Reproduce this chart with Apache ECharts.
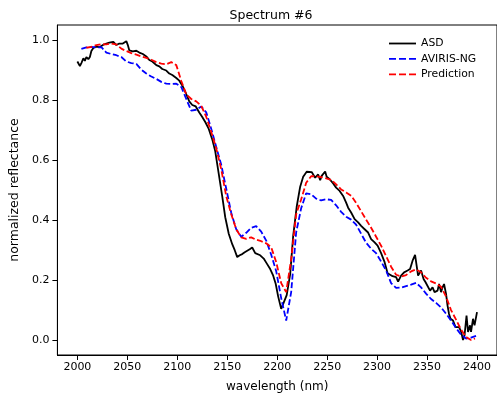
<!DOCTYPE html>
<html>
<head>
<meta charset="utf-8">
<script src="https://cdn.jsdelivr.net/npm/echarts@6/dist/echarts.min.js"></script>
<style>html,body{margin:0;padding:0;background:#fff}#c{width:497px;height:398px}</style>
</head>
<body>
<div id="c"></div>
<script>
// Tick labels
const xTicks = [2000, 2050, 2100, 2150, 2200, 2250, 2300, 2350, 2400];
const yTicks = [0.0, 0.2, 0.4, 0.6, 0.8, 1.0];

// ASD (black solid)
const asdWl = [2000,2002.5,2004,2006,2007.5,2009,2011,2012.5,2014,2016,2019,2022,2026,2029,2032,2036,2037,2039,2040.5,2042,2044,2045.5,2049,2050.5,2052,2055.5,2059,2062,2065.5,2069,2072,2075,2079,2082,2085,2089,2092,2095,2099,2102,2105,2108.5,2112,2115,2118.5,2122,2125,2128,2131.5,2135,2138,2141.5,2145,2148,2151.5,2155,2157.5,2160,2162.5,2165,2167.5,2170,2172.5,2175,2176.5,2178,2180,2183,2186.5,2189.5,2193,2196,2198.5,2201,2204,2206,2209.5,2213,2216,2219.5,2223,2226,2229.5,2231,2234.5,2238,2241,2243,2244.5,2248,2249.5,2252.5,2256,2259,2262.5,2266,2269,2271,2274,2277.5,2281,2284,2287.5,2291,2294,2297.5,2300.5,2304,2307.5,2310.5,2315.5,2319,2321,2324,2327,2330.5,2333,2335.5,2338,2340,2341,2344,2346.5,2348.5,2350.5,2353,2355.5,2357.5,2360.5,2362,2364,2365.5,2367,2369,2370.5,2372,2373.5,2376,2378.5,2382,2384,2386,2387.5,2389.5,2391,2393,2394,2396,2397.5,2400];
const asdVal = [0.93,0.915,0.925,0.941,0.932,0.945,0.938,0.945,0.965,0.975,0.98,0.978,0.986,0.99,0.993,0.996,1.0,0.985,0.98,0.99,0.992,0.99,0.998,0.985,0.967,0.964,0.966,0.96,0.955,0.947,0.935,0.93,0.918,0.914,0.905,0.9,0.89,0.885,0.875,0.866,0.85,0.825,0.797,0.785,0.78,0.76,0.745,0.728,0.705,0.67,0.63,0.555,0.48,0.41,0.355,0.32,0.3,0.277,0.283,0.287,0.293,0.298,0.303,0.309,0.313,0.29,0.287,0.283,0.272,0.256,0.237,0.215,0.188,0.145,0.104,0.105,0.15,0.22,0.348,0.445,0.512,0.545,0.562,0.567,0.561,0.542,0.553,0.534,0.548,0.563,0.545,0.537,0.523,0.509,0.498,0.481,0.459,0.442,0.426,0.404,0.393,0.381,0.37,0.359,0.337,0.326,0.315,0.29,0.26,0.223,0.213,0.21,0.195,0.215,0.226,0.232,0.237,0.265,0.284,0.281,0.215,0.232,0.204,0.193,0.198,0.165,0.176,0.16,0.165,0.187,0.16,0.176,0.187,0.154,0.115,0.087,0.071,0.065,0.043,0.043,0.029,0.0,0.015,0.082,0.027,0.049,0.027,0.071,0.049,0.093];

// AVIRIS-NG (blue dashed)
const avWl = [2004,2009,2014,2019,2024,2029,2034,2039,2044,2049,2054,2059,2064,2069,2074,2079,2084,2089,2094,2099,2104,2109,2114,2119,2124,2129,2134,2139,2144,2149,2154,2159,2164,2169,2174,2179,2184,2189,2194,2199,2204,2209,2214,2219,2224,2229,2234,2239,2244,2249,2254,2259,2264,2269,2274,2279,2284,2289,2294,2299,2304,2309,2314,2319,2324,2329,2334,2339,2344,2349,2354,2359,2364,2369,2374,2379,2384,2389,2394,2399];
const avVal = [0.972,0.977,0.979,0.977,0.978,0.96,0.955,0.951,0.945,0.93,0.925,0.922,0.903,0.89,0.88,0.872,0.862,0.856,0.855,0.856,0.845,0.805,0.766,0.769,0.78,0.76,0.705,0.645,0.585,0.505,0.425,0.37,0.345,0.358,0.375,0.38,0.362,0.332,0.285,0.23,0.14,0.065,0.16,0.36,0.44,0.49,0.487,0.472,0.466,0.47,0.468,0.45,0.428,0.412,0.402,0.385,0.355,0.325,0.305,0.29,0.262,0.232,0.19,0.174,0.175,0.18,0.185,0.191,0.176,0.155,0.137,0.124,0.109,0.088,0.065,0.04,0.018,0.005,0.008,0.014];

// Prediction (red dashed)
const prWl = [2009,2014,2019,2024,2029,2034,2039,2044,2049,2054,2059,2064,2069,2074,2079,2084,2089,2094,2099,2104,2109,2114,2119,2124,2129,2134,2139,2144,2149,2154,2159,2164,2169,2174,2179,2184,2189,2194,2199,2204,2209,2214,2219,2224,2229,2234,2239,2244,2249,2254,2259,2264,2269,2274,2279,2284,2289,2294,2299,2304,2309,2314,2319,2324,2329,2334,2339,2344,2349,2354,2359,2364,2369,2374,2379,2384,2389,2394,2398];
const prVal = [0.976,0.979,0.985,0.988,0.987,0.99,0.987,0.973,0.965,0.958,0.953,0.947,0.942,0.936,0.928,0.923,0.921,0.928,0.918,0.865,0.82,0.805,0.797,0.782,0.745,0.695,0.64,0.57,0.48,0.42,0.37,0.343,0.338,0.343,0.335,0.33,0.323,0.31,0.26,0.19,0.16,0.27,0.42,0.47,0.525,0.547,0.547,0.544,0.54,0.535,0.52,0.503,0.493,0.482,0.458,0.43,0.402,0.375,0.345,0.315,0.28,0.245,0.218,0.212,0.217,0.229,0.236,0.226,0.208,0.196,0.189,0.178,0.145,0.1,0.068,0.035,0.01,0.0,0.005];

const zip = (a, b) => a.map((x, i) => [x, b[i]]);
const FONT = 'DejaVu Sans';
const SOLID_ICON = 'path://M0,0h27v1.8h-27z';
const DASH_ICON = 'path://M0,0h7v1.8h-7zM10,0h7v1.8h-7zM20,0h7v1.8h-7z';

const chart = echarts.init(document.getElementById('c'), null, {renderer: 'canvas'});
chart.setOption({
  animation: false,
  backgroundColor: '#fff',
  textStyle: {fontFamily: FONT},
  title: {
    text: 'Spectrum #6',
    left: 266, top: 4, textAlign: 'center',
    textStyle: {fontFamily: FONT, fontSize: 12.5, fontWeight: 'normal', color: '#000'}
  },
  legend: {
    orient: 'vertical', left: 389, top: 37.5, padding: 0,
    itemWidth: 27, itemHeight: 1.8, itemGap: 3.4, itemTextGap: 14,
    textStyle: {fontFamily: FONT, fontSize: 10.8, lineHeight: 12, color: '#000'},
    data: [
      {name: 'ASD', icon: SOLID_ICON},
      {name: 'AVIRIS-NG', icon: DASH_ICON},
      {name: 'Prediction', icon: DASH_ICON}
    ]
  },
  grid: {left: 57, top: 25, right: -3.6, bottom: 41.7, show: true, borderColor: '#000', borderWidth: 1, backgroundColor: 'transparent'},
  xAxis: {
    type: 'value', min: 1980, max: 2420,
    name: 'wavelength (nm)', nameLocation: 'middle', nameGap: 26,
    nameTextStyle: {fontFamily: FONT, fontSize: 12, color: '#000'},
    axisLine: {show: true, onZero: false, lineStyle: {color: '#000', width: 1}},
    axisTick: {show: true, length: 5, lineStyle: {color: '#000'}, customValues: xTicks},
    axisLabel: {fontFamily: FONT, fontSize: 11, color: '#000', margin: 7, customValues: xTicks, formatter: v => String(v)},
    splitLine: {show: false}
  },
  yAxis: {
    type: 'value', min: -0.05, max: 1.052,
    name: 'normalized reflectance', nameLocation: 'middle', nameGap: 33,
    nameTextStyle: {fontFamily: FONT, fontSize: 12.5, color: '#000'},
    axisLine: {show: true, onZero: false, lineStyle: {color: '#000', width: 1}},
    axisTick: {show: true, length: 5, lineStyle: {color: '#000'}, customValues: yTicks},
    axisLabel: {fontFamily: FONT, fontSize: 11, color: '#000', margin: 8, customValues: yTicks, formatter: v => v.toFixed(1)},
    splitLine: {show: false}
  },
  series: [
    {name: 'ASD', type: 'line', data: zip(asdWl, asdVal), symbol: 'none', color: '#000',
     lineStyle: {color: '#000', width: 1.8}},
    {name: 'AVIRIS-NG', type: 'line', data: zip(avWl, avVal), symbol: 'none', color: '#0000ff',
     lineStyle: {color: '#0000ff', width: 1.8, type: [6, 2.6]}},
    {name: 'Prediction', type: 'line', data: zip(prWl, prVal), symbol: 'none', color: '#ff0000',
     lineStyle: {color: '#ff0000', width: 1.8, type: [6, 2.6]}}
  ]
});
</script>
</body>
</html>
